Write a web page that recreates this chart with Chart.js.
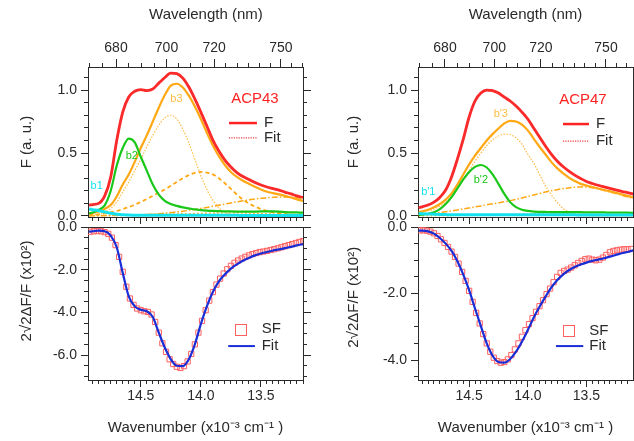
<!DOCTYPE html>
<html>
<head>
<meta charset="utf-8">
<title>ACP43 / ACP47 fluorescence and SF spectra</title>
<script src="https://cdn.jsdelivr.net/npm/chart.js@4.4.1/dist/chart.umd.min.js"></script>
<style>
  html, body { margin: 0; padding: 0; width: 634px; height: 441px; overflow: hidden; background: #fff; }
  canvas { position: absolute; left: 0; top: 0; }
</style>
</head>
<body>
<canvas id="topLeft" width="700" height="441"></canvas>
<canvas id="botLeft" width="700" height="441"></canvas>
<canvas id="topRight" width="700" height="441"></canvas>
<canvas id="botRight" width="700" height="441"></canvas>
<script>
// wavenumber grid of the curves (x10^3 cm^-1)
const nuA = [14.93, 14.90, 14.85, 14.80, 14.75, 14.70, 14.65, 14.60, 14.55, 14.50,
  14.45, 14.40, 14.35, 14.30, 14.25, 14.20, 14.15, 14.10, 14.05, 14.00,
  13.95, 13.90, 13.85, 13.80, 13.75, 13.70, 13.65, 13.60, 13.55, 13.50,
  13.45, 13.40, 13.35, 13.30, 13.25, 13.20, 13.15];
const nuB = nuA.concat([13.10]);

// ACP43 fluorescence and components
const fA43 = [0.087, 0.091, 0.10, 0.16, 0.31, 0.60, 0.825, 0.945, 0.99, 1.004,
  0.996, 1.008, 1.055, 1.10, 1.135, 1.13, 1.095, 1.024, 0.93, 0.825,
  0.714, 0.603, 0.516, 0.444, 0.389, 0.345, 0.313, 0.29, 0.266, 0.246,
  0.23, 0.218, 0.206, 0.19, 0.175, 0.159, 0.147];
const b1A43 = [0.055, 0.05, 0.042, 0.032, 0.022, 0.014, 0.009, 0.007, 0.006, 0.005,
  0.005, 0.005, 0.005, 0.005, 0.005, 0.005, 0.005, 0.005, 0.005, 0.005,
  0.005, 0.005, 0.005, 0.005, 0.005, 0.005, 0.004, 0.004, 0.004, 0.004,
  0.004, 0.004, 0.004, 0.004, 0.004, 0.004, 0.004];
const b2A43 = [0.02, 0.028, 0.05, 0.085, 0.2, 0.40, 0.54, 0.615, 0.585, 0.47,
  0.36, 0.25, 0.17, 0.12, 0.095, 0.08, 0.068, 0.06, 0.052, 0.047,
  0.043, 0.04, 0.038, 0.037, 0.036, 0.035, 0.034, 0.034, 0.035, 0.036,
  0.037, 0.036, 0.034, 0.031, 0.029, 0.028, 0.027];
const b3A43 = [0.02, 0.024, 0.036, 0.056, 0.087, 0.155, 0.25, 0.33, 0.43, 0.54,
  0.64, 0.75, 0.86, 0.96, 1.035, 1.05, 1.02, 0.955, 0.87, 0.77,
  0.66, 0.56, 0.475, 0.405, 0.35, 0.31, 0.28, 0.256, 0.232, 0.21,
  0.193, 0.182, 0.172, 0.16, 0.147, 0.132, 0.12];
const g1A43 = [0.005, 0.008, 0.015, 0.03, 0.06, 0.11, 0.19, 0.27, 0.36, 0.45,
  0.55, 0.64, 0.72, 0.78, 0.80, 0.77, 0.69, 0.58, 0.45, 0.32,
  0.21, 0.125, 0.065, 0.03, 0.012, 0.005, 0.002, 0, 0, 0,
  0, 0, 0, 0, 0, 0, 0];
const g2A43 = [0.005, 0.008, 0.012, 0.02, 0.03, 0.04, 0.055, 0.07, 0.09, 0.11,
  0.135, 0.16, 0.185, 0.21, 0.24, 0.27, 0.3, 0.325, 0.343, 0.35,
  0.345, 0.33, 0.30, 0.26, 0.215, 0.17, 0.13, 0.1, 0.075, 0.055,
  0.04, 0.028, 0.02, 0.014, 0.01, 0.007, 0.005];
const g3A43 = [0.001, 0.001, 0.002, 0.002, 0.003, 0.004, 0.005, 0.006, 0.008, 0.01,
  0.012, 0.015, 0.018, 0.022, 0.027, 0.032, 0.038, 0.045, 0.052, 0.06,
  0.068, 0.077, 0.086, 0.095, 0.104, 0.113, 0.121, 0.128, 0.135, 0.14,
  0.145, 0.148, 0.15, 0.15, 0.148, 0.144, 0.138];
const g4A43 = [0.002, 0.003, 0.004, 0.005, 0.006, 0.007, 0.008, 0.009, 0.01, 0.011,
  0.012, 0.013, 0.014, 0.015, 0.016, 0.017, 0.018, 0.019, 0.02, 0.021,
  0.022, 0.023, 0.024, 0.025, 0.025, 0.025, 0.024, 0.023, 0.021, 0.019,
  0.017, 0.015, 0.013, 0.011, 0.009, 0.008, 0.007];

// ACP47 fluorescence and components
const fB47 = [0.067, 0.073, 0.087, 0.11, 0.147, 0.206, 0.31, 0.452, 0.61, 0.786,
  0.913, 0.976, 1.0, 0.996, 0.976, 0.944, 0.913, 0.873, 0.825, 0.77,
  0.698, 0.627, 0.556, 0.492, 0.437, 0.393, 0.357, 0.325, 0.298, 0.274,
  0.258, 0.244, 0.232, 0.22, 0.208, 0.196, 0.185, 0.174];
const b1B47 = [0.02, 0.018, 0.016, 0.014, 0.012, 0.011, 0.01, 0.01, 0.01, 0.01,
  0.01, 0.01, 0.01, 0.01, 0.009, 0.009, 0.009, 0.009, 0.009, 0.009,
  0.009, 0.009, 0.009, 0.009, 0.009, 0.009, 0.009, 0.009, 0.008, 0.008,
  0.008, 0.008, 0.008, 0.008, 0.008, 0.008, 0.008, 0.008];
const b2B47 = [0.008, 0.01, 0.018, 0.03, 0.055, 0.095, 0.15, 0.22, 0.29, 0.35,
  0.39, 0.405, 0.385, 0.33, 0.255, 0.175, 0.11, 0.07, 0.05, 0.04,
  0.035, 0.033, 0.032, 0.031, 0.031, 0.03, 0.03, 0.03, 0.03, 0.029,
  0.029, 0.028, 0.028, 0.027, 0.027, 0.026, 0.026, 0.025];
const b3B47 = [0.03, 0.037, 0.05, 0.07, 0.095, 0.13, 0.18, 0.25, 0.33, 0.41,
  0.48, 0.54, 0.60, 0.65, 0.695, 0.735, 0.755, 0.75, 0.725, 0.68,
  0.615, 0.55, 0.49, 0.43, 0.38, 0.34, 0.305, 0.278, 0.255, 0.242,
  0.23, 0.218, 0.206, 0.196, 0.185, 0.172, 0.16, 0.148];
const g1B47 = [0.025, 0.03, 0.04, 0.055, 0.078, 0.11, 0.155, 0.215, 0.285, 0.36,
  0.435, 0.5, 0.56, 0.605, 0.635, 0.65, 0.645, 0.62, 0.57, 0.49,
  0.42, 0.33, 0.24, 0.17, 0.11, 0.06, 0.03, 0.014, 0.006, 0.002,
  0, 0, 0, 0, 0, 0, 0, 0];
const g3B47 = [0.01, 0.012, 0.017, 0.022, 0.028, 0.034, 0.041, 0.048, 0.056, 0.064,
  0.072, 0.08, 0.089, 0.097, 0.105, 0.113, 0.122, 0.132, 0.143, 0.155,
  0.167, 0.179, 0.19, 0.2, 0.209, 0.217, 0.223, 0.228, 0.231, 0.23,
  0.225, 0.215, 0.202, 0.19, 0.178, 0.165, 0.152, 0.138];
const g4B47 = [0.001, 0.001, 0.002, 0.002, 0.003, 0.003, 0.004, 0.005, 0.006, 0.007,
  0.008, 0.009, 0.01, 0.011, 0.012, 0.013, 0.014, 0.015, 0.016, 0.017,
  0.018, 0.019, 0.02, 0.02, 0.02, 0.02, 0.019, 0.018, 0.016, 0.014,
  0.012, 0.01, 0.008, 0.007, 0.006, 0.005, 0.004, 0.003];

// SF fits (x10^2)
const fitA43 = [-0.22, -0.2, -0.17, -0.2, -0.4, -0.95, -2.15, -3.25, -3.72, -3.88,
  -3.95, -4.22, -4.95, -5.65, -6.2, -6.5, -6.52, -6.2, -5.5, -4.55,
  -3.72, -3.05, -2.55, -2.22, -1.95, -1.75, -1.58, -1.45, -1.33, -1.24,
  -1.17, -1.1, -1.05, -0.99, -0.93, -0.86, -0.8];
const fitB47 = [-0.11, -0.11, -0.13, -0.2, -0.33, -0.5, -0.72, -1.03, -1.43, -1.9,
  -2.45, -2.98, -3.5, -3.87, -4.06, -4.08, -3.97, -3.75, -3.45, -3.1,
  -2.73, -2.4, -2.1, -1.82, -1.6, -1.43, -1.3, -1.2, -1.13, -1.07,
  -1.02, -0.98, -0.94, -0.89, -0.84, -0.79, -0.75, -0.7];

// SF data points
const sfNuA = [14.92, 14.89, 14.86, 14.83, 14.80, 14.77, 14.74, 14.71, 14.68, 14.65,
  14.62, 14.59, 14.56, 14.53, 14.50, 14.47, 14.44, 14.41, 14.38, 14.35,
  14.32, 14.29, 14.26, 14.23, 14.20, 14.17, 14.14, 14.11, 14.08, 14.05,
  14.02, 13.99, 13.96, 13.93, 13.90, 13.87, 13.84, 13.81, 13.78, 13.75,
  13.72, 13.69, 13.66, 13.63, 13.60, 13.57, 13.54, 13.51, 13.48, 13.45,
  13.42, 13.39, 13.36, 13.33, 13.30, 13.27, 13.24, 13.21, 13.18, 13.15];
const sfNuB = sfNuA.concat([13.12]);
const sfA43 = [-0.22, -0.2, -0.19, -0.2, -0.24, -0.32, -0.5, -0.85, -1.4, -2.1,
  -2.8, -3.35, -3.65, -3.82, -3.9, -3.95, -3.98, -4.1, -4.45, -4.95,
  -5.45, -5.85, -6.2, -6.42, -6.55, -6.6, -6.52, -6.3, -5.95, -5.5,
  -4.95, -4.4, -3.9, -3.45, -3.05, -2.7, -2.42, -2.18, -1.98, -1.82,
  -1.68, -1.57, -1.48, -1.4, -1.33, -1.27, -1.22, -1.18, -1.15, -1.12,
  -1.08, -1.04, -1.0, -0.95, -0.9, -0.85, -0.8, -0.75, -0.7, -0.66];
const sfB47 = [-0.1, -0.1, -0.11, -0.14, -0.19, -0.27, -0.37, -0.48, -0.6, -0.74,
  -0.9, -1.1, -1.35, -1.62, -1.92, -2.25, -2.58, -2.9, -3.22, -3.5,
  -3.75, -3.93, -4.03, -4.08, -4.06, -3.98, -3.85, -3.68, -3.5, -3.3,
  -3.1, -2.92, -2.74, -2.55, -2.38, -2.2, -2.02, -1.85, -1.66, -1.5,
  -1.38, -1.32, -1.28, -1.22, -1.15, -1.08, -1.02, -0.97, -0.95, -0.98,
  -1.0, -0.98, -0.92, -0.84, -0.76, -0.72, -0.7, -0.68, -0.67, -0.67, -0.66];

// tick labels
const nuTicks = [14.5, 14.0, 13.5];
const nuLabels = ['14.5', '14.0', '13.5'];
const waveTicks = [680, 700, 720, 750];
const waveLabels = ['680', '700', '720', '750'];
const fTicks = [0, 0.5, 1.0];
const fLabels = ['0.0', '0.5', '1.0'];
const sfTicksA = [0, -2, -4, -6];
const sfLabelsA = ['0.0', '-2.0', '-4.0', '-6.0'];
const sfTicksB = [0, -2, -4];
const sfLabelsB = ['0.0', '-2.0', '-4.0'];

const family = '"Liberation Sans", Arial, Helvetica, sans-serif';
const ink = '#2a2a2a';
const red = 'rgb(255,35,35)';
const orange = 'rgb(255,168,20)';
const orangeLight = 'rgb(255,188,70)';
const green = 'rgb(25,200,25)';
const cyan = 'rgb(20,225,240)';
const blue = 'rgb(25,45,215)';
const pink = 'rgb(255,95,95)';
const tickFont = {family: family, size: 14};
const titleFont = {family: family, size: 15};

Chart.defaults.font.family = family;

function steps(lo, hi, step) {
  const out = [];
  for (let k = Math.ceil(lo / step - 1e-9); k * step <= hi + 1e-9; k++) out.push(+(k * step).toFixed(4));
  return out;
}
function toNu(nm) { return 1e4 / nm; }

// one side of a frame: border line plus outward ticks
function side(axis, position, range, values, tickLength, o) {
  o = o || {};
  return {
    type: 'linear', axis: axis, position: position,
    min: range[0], max: range[1], reverse: axis === 'x', bounds: 'data',
    weight: o.weight || 0,
    afterBuildTicks: function (scale) { scale.ticks = values.map(function (v) { return {value: v}; }); },
    afterFit: function (scale) {
      if (axis === 'x') scale.height = o.size || 0; else scale.width = o.size || 0;
    },
    ticks: {
      display: !!o.labels, autoSkip: false, maxRotation: 0, minRotation: 0,
      padding: o.pad || 0, color: ink, font: tickFont,
      callback: function (v, i) { return o.labels ? o.labels[i] : ''; }
    },
    grid: {display: true, drawOnChartArea: false, drawTicks: tickLength > 0,
      tickLength: tickLength, tickWidth: 1, tickColor: ink},
    border: {display: o.border !== false, color: ink, width: 1},
    title: o.title ? {display: true, text: o.title, color: ink, font: titleFont, padding: o.titlePad}
                   : {display: false}
  };
}

function curve(xs, ys, color, width, dash) {
  return {
    data: ys.map(function (y, i) { return {x: xs[i], y: y}; }),
    borderColor: color, borderWidth: width, borderDash: dash || [],
    pointRadius: 0, fill: false, cubicInterpolationMode: 'monotone'
  };
}
function squares(xs, ys) {
  return {
    data: ys.map(function (y, i) { return {x: xs[i], y: y}; }),
    showLine: false, pointStyle: 'rect', pointRadius: 3.7,
    pointBorderColor: pink, pointBorderWidth: 1, pointBackgroundColor: 'rgba(0,0,0,0)'
  };
}

// text labels and legend samples placed in data coordinates
function notes(items) {
  return {
    id: 'notes',
    afterDatasetsDraw: function (chart) {
      const ctx = chart.ctx, sx = chart.scales.x, sy = chart.scales.y;
      ctx.save();
      items.forEach(function (it) {
        const x = sx.getPixelForValue(it.x), y = sy.getPixelForValue(it.y);
        if (it.text) {
          ctx.font = (it.size || 15) + 'px ' + family;
          ctx.fillStyle = it.color || ink;
          ctx.textAlign = it.align || 'center';
          ctx.textBaseline = 'middle';
          ctx.fillText(it.text, x, y);
        } else if (it.to !== undefined) {
          ctx.strokeStyle = it.color; ctx.lineWidth = it.width;
          ctx.setLineDash(it.dash || []);
          ctx.beginPath(); ctx.moveTo(x, y); ctx.lineTo(sx.getPixelForValue(it.to), y); ctx.stroke();
        } else if (it.box) {
          ctx.setLineDash([]); ctx.strokeStyle = it.color; ctx.lineWidth = 1;
          ctx.strokeRect(Math.round(x - it.box / 2) + 0.5, Math.round(y - it.box / 2) + 0.5, it.box, it.box);
        }
      });
      ctx.restore();
    }
  };
}

function topSets(nu, f, b1, b2, b3, g1, g2, g3, g4) {
  const sets = [
    curve(nu, f, 'rgb(235,60,60)', 1.2, [1.2, 1.2]),
    curve(nu, f, red, 2.8),
    curve(nu, b1, cyan, 3),
    curve(nu, b2, green, 2.2),
    curve(nu, b3, orange, 2.2),
    curve(nu, g1, orangeLight, 1.2, [1.5, 1.5])
  ];
  if (g2) sets.push(curve(nu, g2, orange, 1.8, [4, 3]));
  sets.push(curve(nu, g3, orange, 1.5, [6, 2, 1.5, 2]));
  sets.push(curve(nu, g4, orange, 1.3, [1.5, 2.5]));
  return sets;
}

function make(id, datasets, padding, scales, items) {
  return new Chart(document.getElementById(id), {
    type: 'line',
    data: {datasets: datasets},
    options: {
      responsive: false, animation: false, devicePixelRatio: 1, events: [],
      layout: {padding: padding},
      plugins: {legend: {display: false}, tooltip: {enabled: false}},
      scales: scales
    },
    plugins: [notes(items)]
  });
}

const xA = [13.15, 14.939];
const xB = [13.103, 14.936];
const fRange = [-0.008, 1.183];

function topScales(xr, left, yPad) {
  return {
    x: side('x', 'bottom', xr, nuTicks, 7, {weight: 1, size: 7}),
    xm: side('x', 'bottom', xr, steps(xr[0], xr[1], 0.05), 4, {border: false}),
    xt: side('x', 'top', xr, waveTicks.map(toNu), 8, {weight: 1, size: 67, labels: waveLabels, pad: 2,
      title: left ? '     Wavelength (nm)' : 'Wavelength (nm)', titlePad: {top: 6, bottom: 0}}),
    xtm: side('x', 'top', xr, steps(670, 760, 5).map(toNu), 4, {border: false}),
    y: side('y', 'left', fRange, fTicks, 7, {weight: 1, size: yPad, labels: fLabels, pad: 4,
      title: 'F (a. u.)', titlePad: {top: 8, bottom: 0}}),
    ym: side('y', 'left', fRange, steps(0, 1.15, 0.1), 4, {border: false}),
    yr: side('y', 'right', fRange, fTicks, 8, {weight: 1, size: 8}),
    yrm: side('y', 'right', fRange, steps(0, 1.15, 0.1), 4, {border: false})
  };
}

function botScales(xr, yr, major, labels, yPad, title) {
  return {
    x: side('x', 'bottom', xr, nuTicks, 7, {weight: 1, size: 57, labels: nuLabels, pad: 1,
      title: 'Wavenumber (x10\u207B\u00B3 cm\u207B\u00B9 )', titlePad: {top: 0, bottom: 0}}),
    xm: side('x', 'bottom', xr, steps(xr[0], xr[1], 0.05), 4, {border: false}),
    xt: side('x', 'top', xr, [], 0, {size: 0}),
    y: side('y', 'left', yr, major, 7, {weight: 1, size: yPad, labels: labels, pad: 4,
      title: title, titlePad: {top: 8, bottom: 0}}),
    ym: side('y', 'left', yr, steps(yr[0], yr[1], 0.5), 4, {border: false}),
    yr: side('y', 'right', yr, major, 8, {weight: 1, size: 8}),
    yrm: side('y', 'right', yr, steps(yr[0], yr[1], 0.5), 4, {border: false})
  };
}

// ACP43 fluorescence
make('topLeft',
  topSets(nuA, fA43, b1A43, b2A43, b3A43, g1A43, g2A43, g3A43, g4A43),
  {left: 10, top: 0, right: 389, bottom: 217},
  topScales(xA, true, 78),
  [
    {text: 'ACP43', x: 13.55, y: 0.93, color: red},
    {x: 13.766, to: 13.533, y: 0.738, color: red, width: 2.5},
    {text: 'F', x: 13.475, y: 0.738, align: 'left'},
    {x: 13.766, to: 13.533, y: 0.62, color: 'rgb(235,60,60)', width: 1.3, dash: [1.2, 1.2]},
    {text: 'Fit', x: 13.475, y: 0.62, align: 'left'},
    {text: 'b1', x: 14.867, y: 0.242, color: cyan, size: 11},
    {text: 'b2', x: 14.575, y: 0.478, color: green, size: 11},
    {text: 'b3', x: 14.203, y: 0.93, color: orangeLight, size: 11}
  ]);

// ACP43 SF
make('botLeft',
  [curve(nuA, fitA43, blue, 2.2), squares(sfNuA, sfA43)],
  {left: 10, top: 227, right: 389, bottom: 4},
  botScales(xA, [-7.17, 0], sfTicksA, sfLabelsA, 78, '      2\u221A2\u0394F/F (x10\u00B2)'),
  [
    {box: 11, x: 13.668, y: -4.78, color: pink},
    {text: 'SF', x: 13.494, y: -4.78, align: 'left'},
    {x: 13.772, to: 13.55, y: -5.58, color: blue, width: 2},
    {text: 'Fit', x: 13.494, y: -5.58, align: 'left'}
  ]);

// ACP47 fluorescence
make('topRight',
  topSets(nuB, fB47, b1B47, b2B47, b3B47, g1B47, null, g3B47, g4B47),
  {left: 337, top: 0, right: 59, bottom: 217},
  topScales(xB, false, 81),
  [
    {text: 'ACP47', x: 13.53, y: 0.92, color: red},
    {x: 13.70, to: 13.478, y: 0.73, color: red, width: 2.5},
    {text: 'F', x: 13.419, y: 0.73, align: 'left'},
    {x: 13.70, to: 13.478, y: 0.595, color: 'rgb(235,60,60)', width: 1.3, dash: [1.2, 1.2]},
    {text: 'Fit', x: 13.419, y: 0.595, align: 'left'},
    {text: "b'1", x: 14.848, y: 0.193, color: cyan, size: 11},
    {text: "b'2", x: 14.40, y: 0.283, color: green, size: 11},
    {text: "b'3", x: 14.23, y: 0.812, color: orangeLight, size: 11}
  ]);

// ACP47 SF
make('botRight',
  [curve(nuB, fitB47, blue, 2.2), squares(sfNuB, sfB47)],
  {left: 337, top: 227, right: 59, bottom: 4},
  botScales(xB, [-4.6, 0], sfTicksB, sfLabelsB, 81, '   2\u221A2\u0394F/F (x10\u00B2)'),
  [
    {box: 11, x: 13.655, y: -3.11, color: pink},
    {text: 'SF', x: 13.476, y: -3.11, align: 'left'},
    {x: 13.76, to: 13.527, y: -3.58, color: blue, width: 2},
    {text: 'Fit', x: 13.476, y: -3.58, align: 'left'}
  ]);
</script>
</body>
</html>
